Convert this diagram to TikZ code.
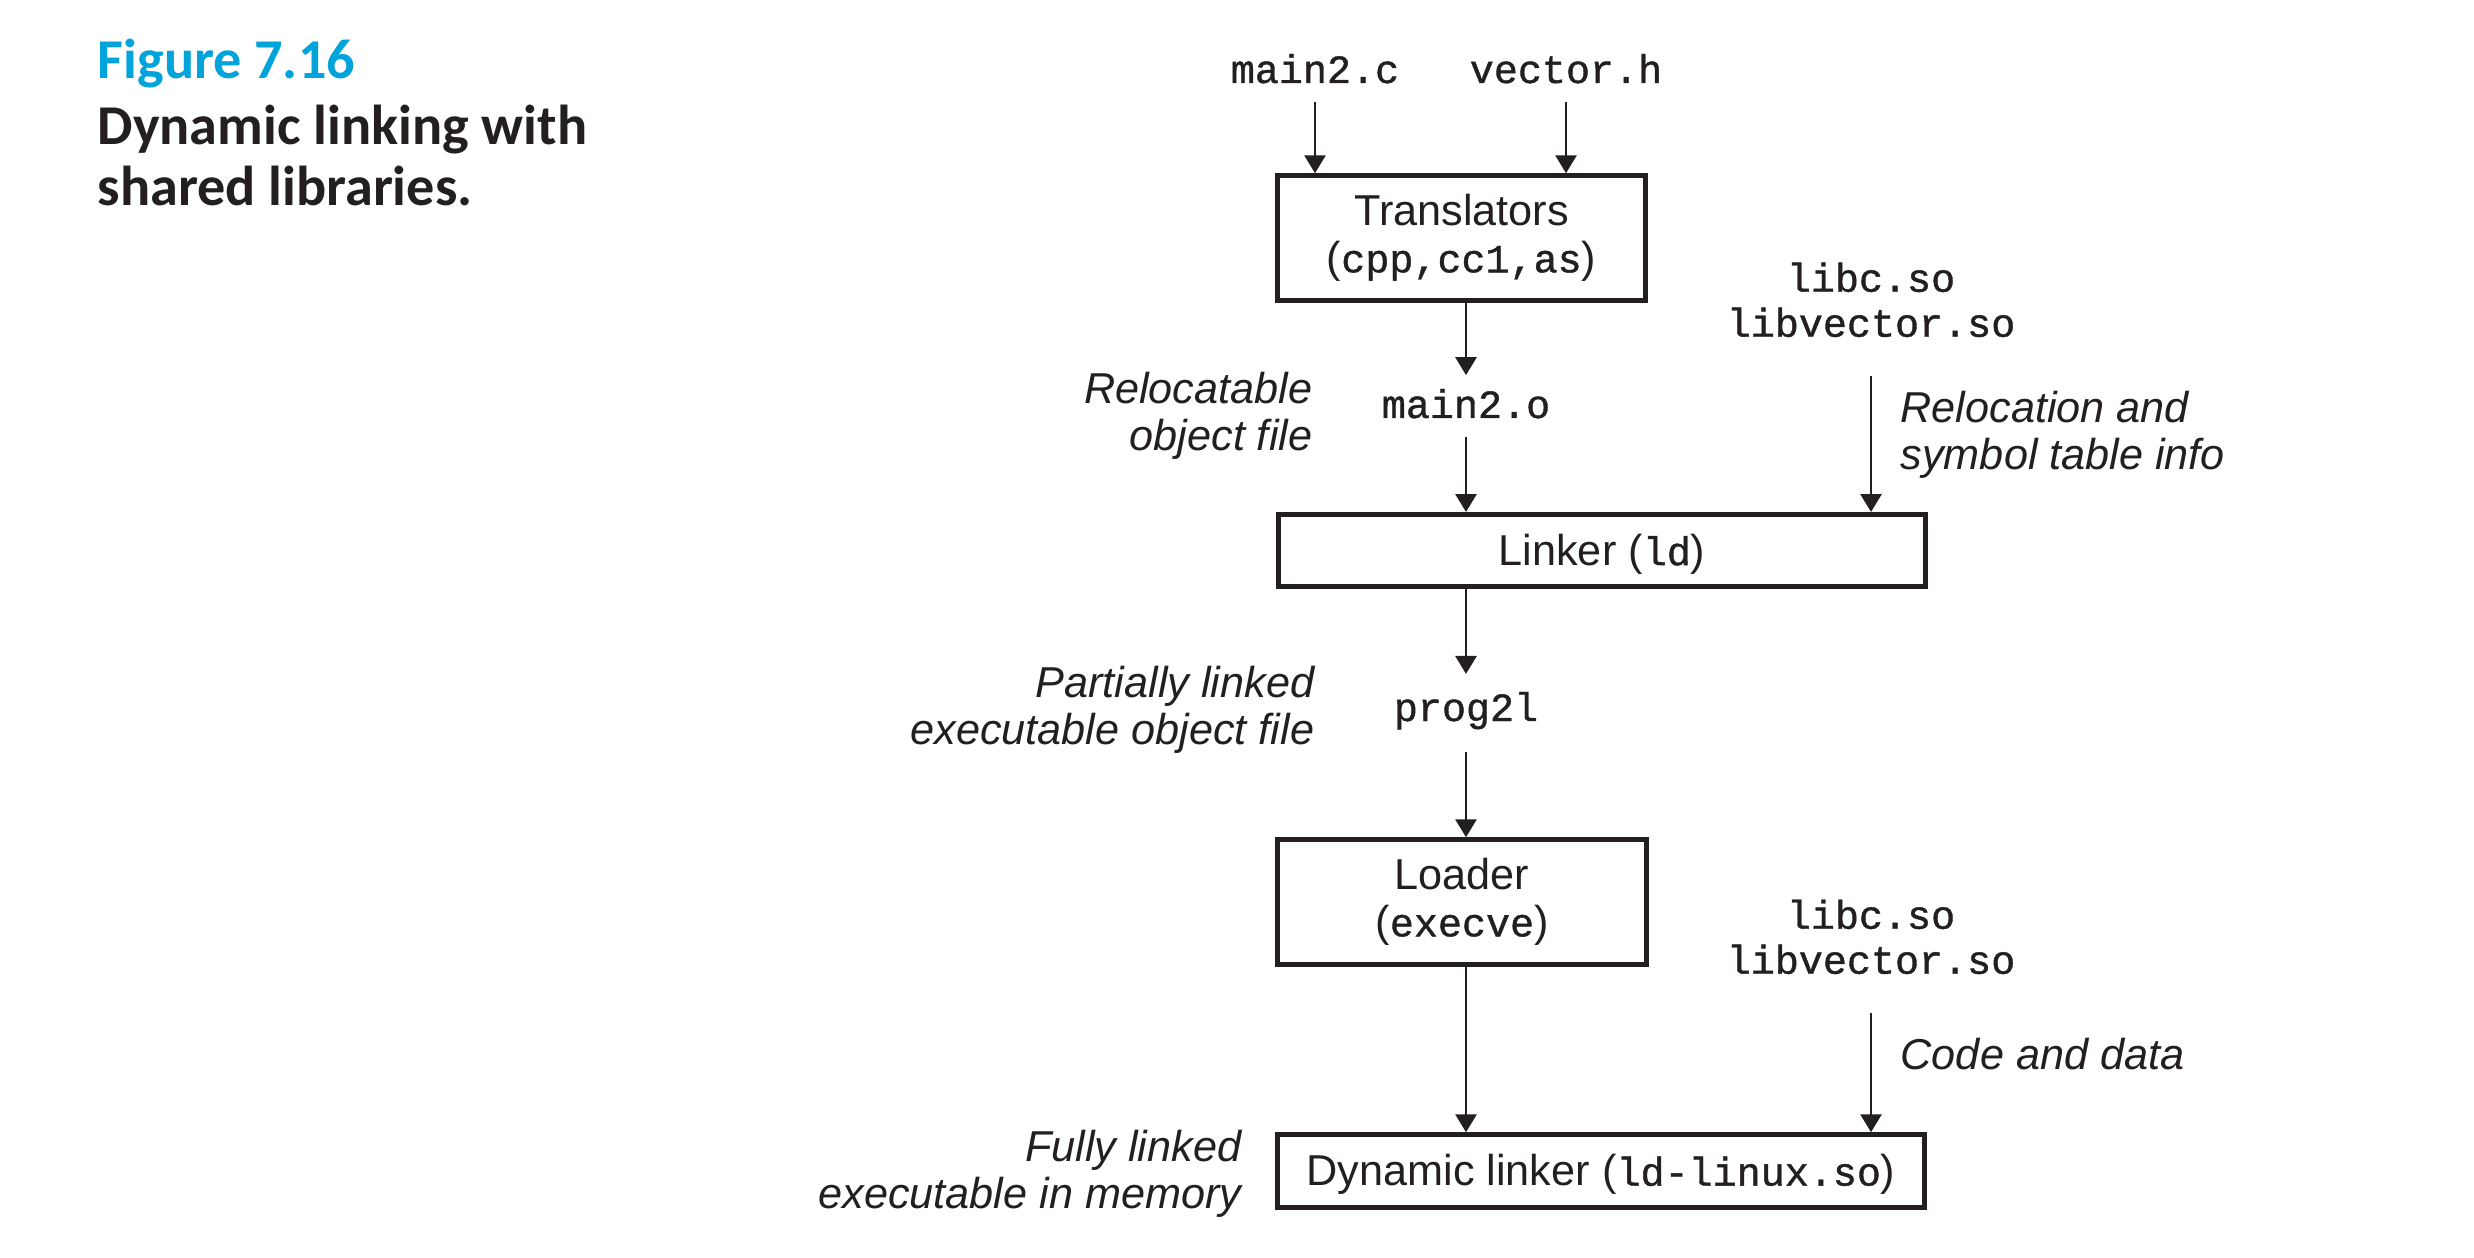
\documentclass[tikz,border=0pt]{standalone}
\usepackage{fontspec}
\usetikzlibrary{arrows.meta,positioning}
\newfontfamily\labelfont{Liberation Sans}
\newfontfamily\codefont[FakeBold=1]{Liberation Mono}
\newfontfamily\capfont{Carlito}
\definecolor{ink}{HTML}{231F20}
\definecolor{figblue}{HTML}{00A3DA}
\newcommand\code[1]{{\codefont\fontsize{11.4}{13.2}\selectfont #1}}

\begin{document}
\begin{tikzpicture}[x=0.1mm,y=-0.1mm,color=ink,>={Triangle[length=5.1pt,width=6pt]}]
	\tikzset{
		stage/.style={draw,line width=1.3pt,align=center,inner sep=0pt,
			font=\labelfont\fontsize{12.3}{13.2}\selectfont},
		onerow/.style={text height=9.6pt,text depth=1.3pt},
		file/.style={inner sep=0pt,align=center,font=\codefont\fontsize{11.4}{12.8}\selectfont},
		note/.style={inner sep=0pt,font=\labelfont\itshape\fontsize{12.3}{13.4}\selectfont},
		capt/.style={inner sep=0pt,font=\capfont\bfseries\fontsize{16}{17.4}\selectfont},
		arr/.style={->,line width=0.7pt}
	}
	\def\xl{1466} \def\xr{1871}
	\useasboundingbox (0,0) rectangle (2474,1258);
	% caption
	\node[capt,text=figblue,anchor=base west] (fignum) at (97,79) {Figure 7.16};
	\node[capt,align=left,anchor=north west] (figtitle) at (97,104) {Dynamic linking with\\shared libraries.};
	% stages
	\node[stage,minimum width=36.8mm,minimum height=12.5mm] (trans) at (1461.5,238) {Translators\\(\code{cpp,cc1,as})};
	\node[stage,onerow,minimum width=64.75mm,minimum height=7.25mm] (linker) at (1602,550.5) {Linker (\code{ld})};
	\node[stage,minimum width=36.9mm,minimum height=12.5mm] (loader) at (1462,902) {Loader\\(\code{execve})};
	\node[stage,onerow,minimum width=64.75mm,minimum height=7.3mm] (dynl) at (1601,1171) {Dynamic linker (\code{ld-linux.so})};
	% files
	\node[file,anchor=base] (mainc) at (1315,83) {main2.c};
	\node[file,anchor=base] (vech) at (1566,83) {vector.h};
	\node[file,anchor=base] (mobj) at (\xl,418) {main2.o};
	\node[file,anchor=base] (prog) at (\xl,721) {prog2l};
	\node[file,anchor=north] (libA) at (\xr,262) {libc.so\\libvector.so};
	\node[file,anchor=north] (libB) at (\xr,899) {libc.so\\libvector.so};
	% notes
	\node[note,align=right,anchor=north east] (objnote) at (1313,371) {Relocatable\\object file};
	\node[note,align=left,anchor=north west] (relnote) at (1900,390) {Relocation and\\symbol table info};
	\node[note,align=right,anchor=north east] (partnote) at (1315,665) {Partially linked\\executable object file};
	\node[note,anchor=base west] (datanote) at (1900,1069) {Code and data};
	\node[note,align=right,anchor=north east] (fullnote) at (1242,1129) {Fully linked\\executable in memory};
	% arrows
	\foreach \p in {mainc,vech}
		\draw[arr,shorten <=5.5pt] (\p.base) -- (\p.base |- trans.north);
	\draw[arr,shorten >=12.2pt] (trans.south -| mobj.base) -- (mobj.base);
	\draw[arr,shorten <=5.4pt] (mobj.base) -- (mobj.base |- linker.north);
	\draw[arr,shorten >=13.4pt] (linker.south -| prog.base) -- (prog.base);
	\draw[arr,shorten <=8.8pt] (prog.base) -- (prog.base |- loader.north);
	\draw[arr] (loader.south -| prog.base) -- (prog.base |- dynl.north);
	\foreach \p/\q in {libA/linker,libB/dynl}
		\draw[arr,shorten <=10.8pt] (\p.south) -- (\p.south |- \q.north);
\end{tikzpicture}
\end{document}
